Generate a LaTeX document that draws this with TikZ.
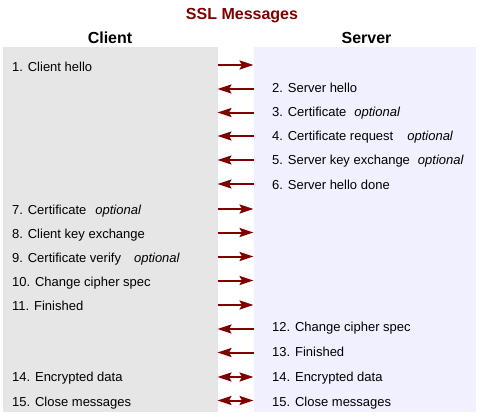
\documentclass[tikz,border=0pt]{standalone}
\usepackage{fontspec}
\setmainfont{Liberation Sans}
\usepackage{xcolor}
\usetikzlibrary{arrows.meta}

\definecolor{sslred}{HTML}{800000}
\definecolor{clientgray}{HTML}{E6E6E6}
\definecolor{serverblue}{HTML}{F0F0FF}

\begin{document}
\begin{tikzpicture}[x=1pt, y=-1pt,
    msg/.style={draw=sslred, line width=2pt},
    msgto/.style={msg, -{Stealth[length=14pt, width=9pt, inset=2.5pt]}},
    msgfrom/.style={msg, {Stealth[length=14pt, width=9pt, inset=2.5pt]}-},
    msgboth/.style={msg, {Stealth[length=14pt, width=9pt, inset=2.5pt]}-{Stealth[length=14pt, width=9pt, inset=2.5pt]}},
    lbl/.style={anchor=base west, inner sep=0pt, font=\fontsize{13}{15}\selectfont},
    head/.style={anchor=base, inner sep=0pt, font=\fontsize{16}{19}\selectfont\bfseries}]
\useasboundingbox (0,0) rectangle (484,418);

\fill[clientgray] (3,47) rectangle (218,412);
\fill[serverblue] (254,47) rectangle (476,412);

\node[head, sslred] (title) at (242,19.5) {SSL Messages};
\node[head] (client) at (110,43.5) {Client};
\node[head] (server) at (366.5,43.5) {Server};

% client side
\node[lbl] (m1) at (12,71) {1. Client hello};
\node[lbl] (m7) at (12,214) {7. Certificate\hspace{9pt}\textit{optional}};
\node[lbl] (m8) at (12,238) {8. Client key exchange};
\node[lbl] (m9) at (12,262) {9. Certificate verify\hspace{13pt}\textit{optional}};
\node[lbl] (m10) at (12,286.5) {10. Change cipher spec};
\node[lbl] (m11) at (12,310) {11. Finished};
\node[lbl] (m14c) at (12,381.5) {14. Encrypted data};
\node[lbl] (m15c) at (12,406) {15. Close messages};

% server side
\node[lbl] (m2) at (272,92) {2. Server hello};
\node[lbl] (m3) at (272,116) {3. Certificate\hspace{8pt}\textit{optional}};
\node[lbl] (m4) at (272,140) {4. Certificate request\hspace{14pt}\textit{optional}};
\node[lbl] (m5) at (272,164.5) {5. Server key exchange\hspace{8pt}\textit{optional}};
\node[lbl] (m6) at (272,189) {6. Server hello done};
\node[lbl] (m12) at (272,331.5) {12. Change cipher spec};
\node[lbl] (m13) at (272,356.5) {13. Finished};
\node[lbl] (m14s) at (272,381.5) {14. Encrypted data};
\node[lbl] (m15s) at (272,406) {15. Close messages};

% arrow ends
\foreach \i/\y in {1/65,2/89,3/112.5,4/136,5/160,6/184,7/209,8/232.5,9/256.5,10/280.5,11/305,12/329,13/352.5,14/377,15/400.5} {
    \coordinate (c\i) at (217.5,\y);
    \coordinate (s\i) at (253.5,\y);
}

\draw[msgto] (c1) -- (s1);
\draw[msgfrom] (c2) -- (s2);
\draw[msgfrom] (c3) -- (s3);
\draw[msgfrom] (c4) -- (s4);
\draw[msgfrom] (c5) -- (s5);
\draw[msgfrom] (c6) -- (s6);
\draw[msgto] (c7) -- (s7);
\draw[msgto] (c8) -- (s8);
\draw[msgto] (c9) -- (s9);
\draw[msgto] (c10) -- (s10);
\draw[msgto] (c11) -- (s11);
\draw[msgfrom] (c12) -- (s12);
\draw[msgfrom] (c13) -- (s13);
\draw[msgboth] (c14) -- (s14);
\draw[msgboth] (c15) -- (s15);
\end{tikzpicture}
\end{document}
